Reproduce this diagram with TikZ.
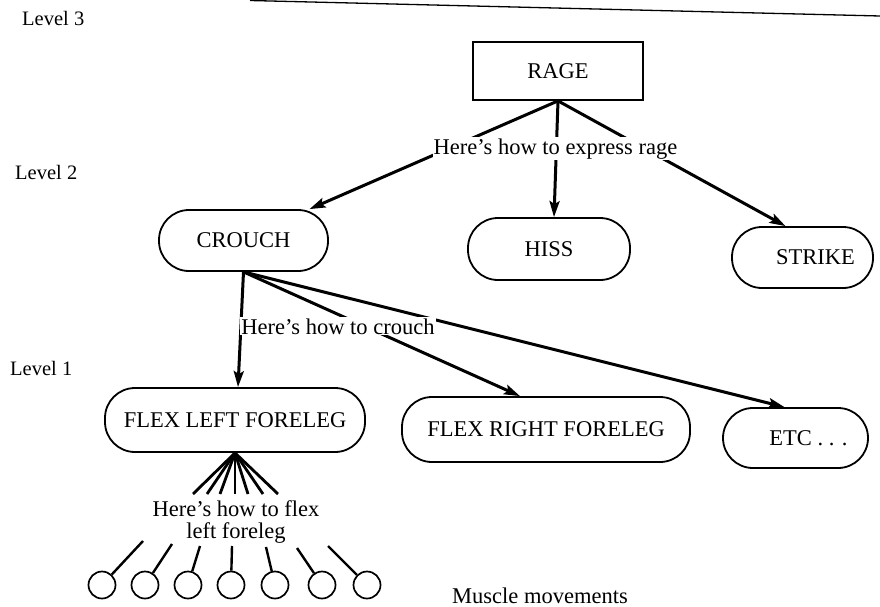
\documentclass[tikz,border=0pt]{standalone}
\usepackage{fontspec}
\setmainfont{Liberation Serif}
\usetikzlibrary{arrows.meta,calc}
\begin{document}
\begin{tikzpicture}[x=1pt,y=-1pt,
  every node/.style={font=\fontsize{22.5}{20}\selectfont, inner sep=0pt},
  sqbox/.style={draw, line width=1.8pt, minimum width=170pt, minimum height=58pt},
  pill/.style={draw, line width=1.8pt, rounded corners=30pt, minimum height=62pt},
  conn/.style={line width=3pt},
  arr/.style={conn, -{Stealth[length=16pt,width=10pt,inset=3pt]}},
  lbl/.style={fill=white, inner sep=1pt},
  lvl/.style={font=\fontsize{20.5}{22}\selectfont, anchor=west},
  ball/.style={circle, draw, line width=1.7pt, minimum size=27pt},
  stick/.style={line width=2.4pt},
  fan/.style={line width=2.8pt}]
\useasboundingbox (0,0) rectangle (880,607);
\fill[white] (0,0) rectangle (880,607);
% page rule
\draw[line width=1.3pt] (250,0.5) -- (880,16);
% level labels
\node[lvl] (lv3) at (22,18) {Level 3};
\node[lvl] (lv2) at (15,172) {Level 2};
\node[lvl] (lv1) at (10,368) {Level 1};
\node[anchor=west] (mm) at (452,596) {Muscle movements};
% nodes
\node[sqbox] (rage) at (558,71) {RAGE};
\node[pill, minimum width=169pt, minimum height=61pt] (crouch) at (243.5,240.5) {CROUCH};
\node[pill, minimum width=162pt] (hiss) at (549,249) {HISS};
\node[pill, minimum width=141pt, minimum height=61pt] (strike) at (802.5,257.5) {\hspace*{26pt}STRIKE};
\node[pill, minimum width=260pt, minimum height=64pt] (flexl) at (235,420) {FLEX LEFT FORELEG};
\node[pill, minimum width=288pt, minimum height=65pt] (flexr) at (546,429.5) {FLEX RIGHT FORELEG};
\node[pill, minimum width=145pt, minimum height=60pt] (etc) at (795.5,438) {\hspace*{26pt}ETC . . .};
% connectors level 3 -> 2
\draw[arr] (rage.south) -- ([xshift=66pt]crouch.north);
\draw[arr] (rage.south) -- ([xshift=5pt]hiss.north);
\draw[arr] (rage.south) -- ([xshift=-17pt]strike.north);
% connectors level 2 -> 1
\draw[arr] (crouch.south) -- ([xshift=3pt]flexl.north);
\draw[arr] (crouch.south) -- ([xshift=-26pt]flexr.north);
\draw[arr] (crouch.south) -- ([xshift=-11pt]etc.north);
% labels over the connectors
\node[lbl, anchor=base] (lrage) at (555.5,154) {Here’s how to express rage};
\node[lbl, anchor=base] (lcrouch) at (338,334) {Here’s how to crouch};
% fan below flex left foreleg
\foreach \x [count=\i] in {193,207,220,235,248,263,278} {
  \coordinate (f\i) at (\x,494);
  \draw[fan] (flexl.south) -- (f\i);
}
\node[align=center, font=\fontsize{22.5}{22.5}\selectfont] (lflex) at (236,522) {Here’s how to flex\\left foreleg};
% muscle movement circles
\foreach \x/\sx/\sy [count=\i] in {102/143/541, 145/172/544, 188/200/546, 231/232/546, 275/266/547, 322/297/548, 367/328/546} {
  \node[ball] (b\i) at (\x,585) {};
  \coordinate (s\i) at (\sx,\sy);
  \draw[stick] (b\i) -- (s\i);
}
\end{tikzpicture}
\end{document}
